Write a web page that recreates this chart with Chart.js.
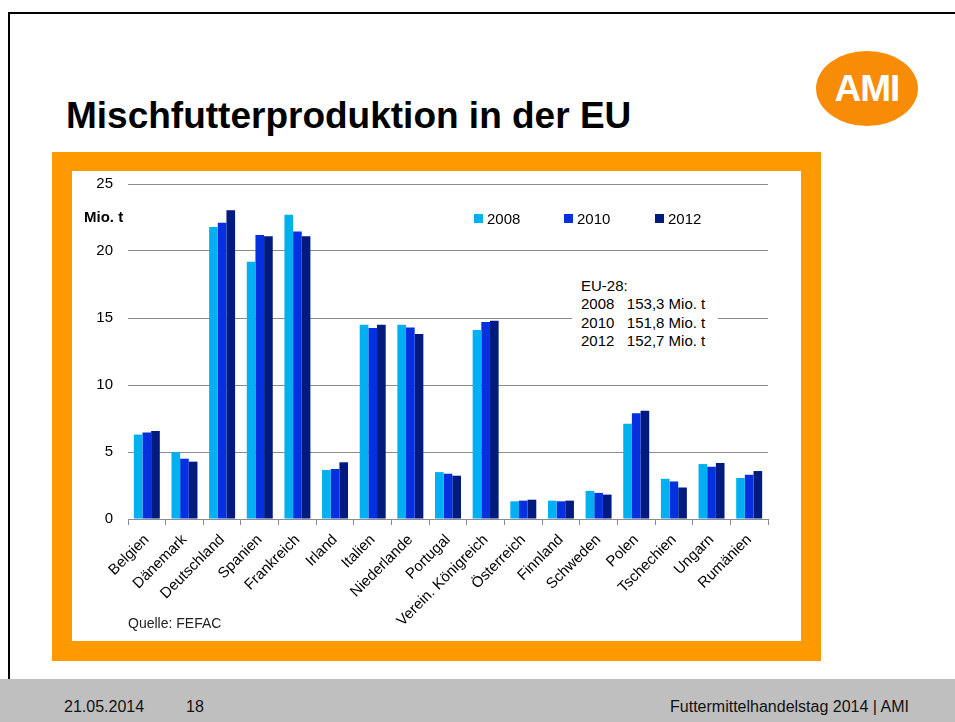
<!DOCTYPE html>
<html>
<head>
<meta charset="utf-8">
<script src="https://cdn.jsdelivr.net/npm/chart.js@4.4.1/dist/chart.umd.min.js"></script>
<style>
  body { margin: 0; width: 955px; height: 722px; background: #fff; position: relative; overflow: hidden;
         font-family: "Liberation Sans", Arial, sans-serif; }
  .abs { position: absolute; }
  #frame { left: 8px; top: 12px; width: 947px; height: 667px; border-left: 2px solid #000; border-top: 2px solid #000; box-sizing: border-box; }
  #title { left: 66px; top: 96px; font-size: 37px; font-weight: bold; line-height: 40px; white-space: nowrap; }
  #logo { left: 816px; top: 51px; width: 102px; height: 75px; border-radius: 50%; background: #f98c06; color: #fff;
          font-weight: bold; font-size: 37px; line-height: 75px; text-align: center; letter-spacing: -1px; }
  #orange { left: 52px; top: 152px; width: 769px; height: 509px; background: #ff9900; }
  #inner { left: 72px; top: 171px; width: 729px; height: 470px; background: #fff; }
  #inner canvas { display: block; }
  #footer { left: 0; top: 679px; width: 955px; height: 43px; background: #bfbfbf; }
  .foot { top: 698px; font-size: 16px; line-height: 18px; color: #111; white-space: nowrap; }
  .lg { font-size: 15px; line-height: 18px; white-space: nowrap; }
  .sq { width: 9px; height: 9px; }
  #eu { left: 572px; top: 276px; width: 146px; height: 75px; background: #fff; }
  #eu div { font-size: 15px; line-height: 18.3px; white-space: nowrap; }
</style>
</head>
<body>
<div id="frame" class="abs"></div>
<div id="title" class="abs">Mischfutterproduktion in der EU</div>
<div id="logo" class="abs">AMI</div>
<div id="orange" class="abs"></div>
<div id="inner" class="abs"><canvas id="chart" width="729" height="470"></canvas></div>

<div class="abs lg" style="left:84px; top:208px; font-weight:bold;">Mio. t</div>
<div id="legend"></div>
<div id="eu" class="abs">
  <div style="margin-left:9px; margin-top:1px;">EU-28:</div>
  <div style="margin-left:9px;">2008&nbsp;&nbsp;&nbsp;153,3 Mio. t</div>
  <div style="margin-left:9px;">2010&nbsp;&nbsp;&nbsp;151,8 Mio. t</div>
  <div style="margin-left:9px;">2012&nbsp;&nbsp;&nbsp;152,7 Mio. t</div>
</div>
<div class="abs" style="left:128px; top:615px; font-size:14px; color:#222;">Quelle: FEFAC</div>

<div id="footer" class="abs"></div>
<div class="abs foot" style="left:64px;">21.05.2014</div>
<div class="abs foot" style="left:186px;">18</div>
<div class="abs foot" style="right:46px;">Futtermittelhandelstag 2014 | AMI</div>

<script>
const countries = ['Belgien', 'Dänemark', 'Deutschland', 'Spanien', 'Frankreich', 'Irland', 'Italien',
    'Niederlande', 'Portugal', 'Verein. Königreich', 'Österreich', 'Finnland', 'Schweden', 'Polen',
    'Tschechien', 'Ungarn', 'Rumänien'];

const years = ['2008', '2010', '2012'];
const colors = ['#00b0f0', '#0430e0', '#001b80'];

const values2008 = [6.3, 5.0, 21.8, 19.2, 22.7, 3.66, 14.5, 14.5, 3.5, 14.1, 1.32, 1.37, 2.1, 7.1, 3.0, 4.1, 3.06];
const values2010 = [6.45, 4.5, 22.1, 21.2, 21.45, 3.73, 14.25, 14.3, 3.38, 14.7, 1.37, 1.32, 1.95, 7.9, 2.8, 3.9, 3.3];
const values2012 = [6.57, 4.28, 23.05, 21.1, 21.1, 4.23, 14.5, 13.8, 3.23, 14.8, 1.44, 1.37, 1.82, 8.08, 2.35, 4.18, 3.58];

const yTicks = [0, 5, 10, 15, 20, 25];

// legend squares + labels
const legendX = [474, 564, 655];
const legend = document.getElementById('legend');
years.forEach((y, i) => {
    legend.innerHTML += `<div class="abs sq" style="left:${legendX[i]}px; top:214px; background:${colors[i]};"></div>
        <div class="abs lg" style="left:${legendX[i] + 13}px; top:210px;">${y}</div>`;
});

const ctx = document.getElementById('chart').getContext('2d');
new Chart(ctx, {
    type: 'bar',
    data: {
        labels: countries,
        datasets: [values2008, values2010, values2012].map((vals, i) => ({
            label: years[i],
            data: vals,
            backgroundColor: colors[i],
            borderWidth: 0,
            categoryPercentage: 0.69,
            barPercentage: 1.0
        }))
    },
    options: {
        responsive: false,
        animation: false,
        layout: { padding: { top: 13, right: 33, left: 0, bottom: 0 } },
        plugins: { legend: { display: false }, tooltip: { enabled: false } },
        scales: {
            x: {
                afterFit: (scale) => { scale.height = 122; },
                border: { color: '#8c8c8c' },
                grid: { display: true, drawOnChartArea: false, tickLength: 6, color: '#8c8c8c', offset: true },
                ticks: {
                    minRotation: 45, maxRotation: 45, autoSkip: false, padding: 6,
                    color: '#000', font: { family: '"Liberation Sans", Arial', size: 15 }
                }
            },
            y: {
                min: 0, max: 25,
                afterFit: (scale) => { scale.width = 56; scale.paddingTop = 0; scale.paddingBottom = 0; },
                afterBuildTicks: (scale) => { scale.ticks = yTicks.map(v => ({ value: v })); },
                border: { display: false },
                grid: { color: '#8c8c8c', drawTicks: false },
                ticks: {
                    padding: 15, color: '#000',
                    font: { family: '"Liberation Sans", Arial', size: 15 }
                }
            }
        }
    }
});
</script>
</body>
</html>
